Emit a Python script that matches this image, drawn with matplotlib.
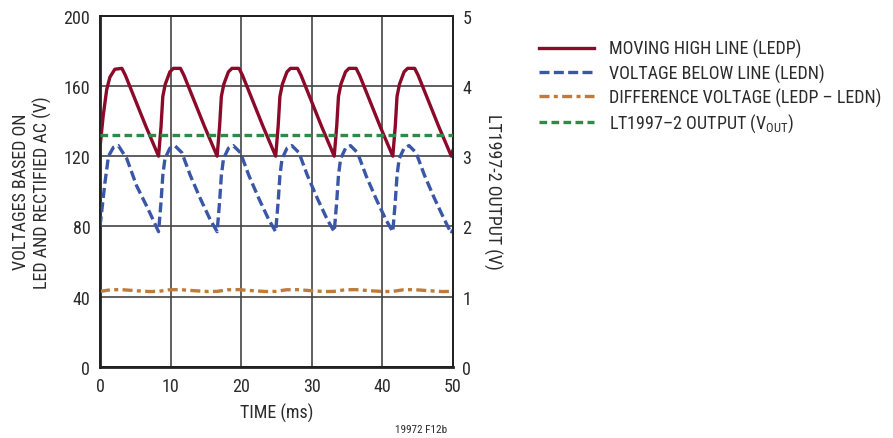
import matplotlib
matplotlib.use("Agg")
import matplotlib.pyplot as plt
from matplotlib.lines import Line2D

plt.rcParams['font.family'] = ['Roboto Condensed', 'DejaVu Sans']
plt.rcParams['mathtext.fontset'] = 'custom'
plt.rcParams['mathtext.rm'] = 'Roboto Condensed'

# ---- data ----
t_red = [0.0, 0.45, 0.95, 1.4, 2.1, 3.1, 3.6, 5.0, 6.5, 8.3,
         8.65, 8.9, 9.25, 9.9, 10.4, 11.4, 11.9, 13.3, 14.8, 16.6,
         16.95, 17.2, 17.55, 18.2, 18.7, 19.7, 20.2, 21.6, 23.1, 24.9,
         25.25, 25.5, 25.85, 26.5, 27.0, 28.0, 28.5, 29.9, 31.4, 33.2,
         33.55, 33.8, 34.15, 34.8, 35.3, 36.3, 36.8, 38.2, 39.7, 41.5,
         41.85, 42.1, 42.45, 43.1, 43.6, 44.6, 45.1, 46.5, 48.0, 49.8, 50.0]
v_red = [125, 143, 158, 165, 169.5, 170, 166, 152, 137, 120,
         137, 154, 161, 168, 170, 170, 166, 152, 137, 120,
         137, 154, 161, 168, 170, 170, 166, 152, 137, 120,
         137, 154, 161, 168, 170, 170, 166, 152, 137, 120,
         137, 154, 161, 168, 170, 170, 166, 152, 137, 120,
         137, 154, 161, 168, 170, 170, 166, 152, 137, 120, 123]

t_blue = [0.0, 0.7, 1.2, 1.9, 2.6, 3.8, 5.2, 6.8, 8.3,
          8.65, 8.9, 9.2, 9.9, 10.6, 11.6, 12.8, 14.2, 15.6, 16.6,
          16.95, 17.2, 17.5, 18.2, 18.9, 19.9, 21.1, 22.5, 23.9, 24.9,
          25.25, 25.5, 25.8, 26.5, 27.2, 28.2, 29.4, 30.8, 32.2, 33.2,
          33.55, 33.8, 34.1, 34.8, 35.5, 36.5, 37.7, 39.1, 40.5, 41.5,
          41.85, 42.1, 42.4, 43.1, 43.8, 44.8, 46.0, 47.4, 48.8, 49.8, 50.0]
v_blue = [80, 105, 120, 125, 126, 118.5, 103, 90, 77,
          94, 109, 118.5, 124.5, 126, 122, 109, 96, 84, 77,
          94, 109, 118.5, 124.5, 126, 122, 109, 96, 84, 77,
          94, 109, 118.5, 124.5, 126, 122, 109, 96, 84, 77,
          94, 109, 118.5, 124.5, 126, 122, 109, 96, 84, 77,
          94, 109, 118.5, 124.5, 126, 122, 109, 96, 84, 76, 78]

t_diff = [0.0, 1.5, 3.0, 5.0, 7.0, 8.3,
          9.8, 11.3, 13.3, 15.3, 16.6,
          18.1, 19.6, 21.6, 23.6, 24.9,
          26.4, 27.9, 29.9, 31.9, 33.2,
          34.7, 36.2, 38.2, 40.2, 41.5,
          43.0, 44.5, 46.5, 48.5, 49.8, 50.0]
v_diff = [43.0, 43.9, 44.0, 43.4, 42.9, 43.0,
          43.9, 44.0, 43.4, 42.9, 43.0,
          43.9, 44.0, 43.4, 42.9, 43.0,
          43.9, 44.0, 43.4, 42.9, 43.0,
          43.9, 44.0, 43.4, 42.9, 43.0,
          43.9, 44.0, 43.4, 42.9, 43.0, 43.0]

t_out = [0.0, 50.0]
v_out = [3.3, 3.3]

x_ticks = [0, 10, 20, 30, 40, 50]
y_ticks = [0, 40, 80, 120, 160, 200]
y2_ticks = [0, 1, 2, 3, 4, 5]

labels = ["MOVING HIGH LINE (LEDP)",
          "VOLTAGE BELOW LINE (LEDN)",
          "DIFFERENCE VOLTAGE (LEDP – LEDN)",
          "LT1997–2 OUTPUT (V$_{\\mathregular{OUT}}$)"]

# ---- styles ----
c_red = "#8b0a2a"
c_blue = "#3a56a6"
c_orange = "#c07a3a"
c_green = "#2e8b47"
txt = "#2b2b2b"
fs = 13

d_blue = (3.0, 1.3)
d_orange = (3.0, 1.3, 1.2, 1.3)
d_green = (2.3, 1.3)

fig = plt.figure(figsize=(8.93, 4.39), dpi=100)
ax = fig.add_axes([0.112, 0.162, 0.395, 0.800])
ax2 = ax.twinx()

ax.set_xlim(0, 50)
ax.set_ylim(0, 200)
ax2.set_ylim(0, 5)
ax.set_xticks(x_ticks)
ax.set_yticks(y_ticks)
ax2.set_yticks(y2_ticks)
ax.grid(True, color="#444444", linewidth=1.2)
ax.set_axisbelow(True)

lw = 2.4
ax.plot(t_red, v_red, color=c_red, lw=lw, solid_joinstyle="round", zorder=4)
ax.plot(t_blue, v_blue, color=c_blue, lw=lw, dashes=d_blue, zorder=3)
ax.plot(t_diff, v_diff, color=c_orange, lw=lw, dashes=d_orange, zorder=3)
ax2.plot(t_out, v_out, color=c_green, lw=lw, dashes=d_green, zorder=3)

for a in (ax, ax2):
    a.tick_params(length=0, labelsize=fs, colors=txt, pad=7)
    for s in a.spines.values():
        s.set_color("#222222")
        s.set_linewidth(1.3)
ax.spines['left'].set_linewidth(2.0)
ax.spines['bottom'].set_linewidth(2.0)

ax.set_xlabel("TIME (ms)", fontsize=fs, color=txt, labelpad=6)
ax.set_ylabel("VOLTAGES BASED ON\nLED AND RECTIFIED AC (V)", fontsize=fs,
              color=txt, labelpad=8, linespacing=1.25)
ax2.set_ylabel("LT1997-2 OUTPUT (V)", fontsize=fs, color=txt,
               rotation=-90, labelpad=22)

handles = [Line2D([], [], color=c_red, lw=lw),
           Line2D([], [], color=c_blue, lw=lw, dashes=d_blue),
           Line2D([], [], color=c_orange, lw=lw, dashes=d_orange),
           Line2D([], [], color=c_green, lw=lw, dashes=d_green)]
fig.legend(handles, labels, loc="upper left", bbox_to_anchor=(0.595, 0.925),
           frameon=False, fontsize=fs, handlelength=3.05, handletextpad=0.85,
           labelspacing=0.28, labelcolor=txt, borderaxespad=0)

fig.text(0.472, 0.013, "19972 F12b", fontsize=8, color=txt, ha="center")

fig.savefig("out.png", dpi=100)
